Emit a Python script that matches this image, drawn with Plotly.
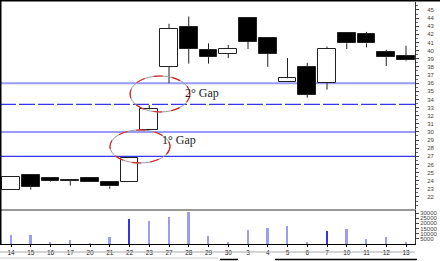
import plotly.graph_objects as go

# ---- data ----
dates = ["14", "15", "16", "17", "20", "21", "22", "23", "27", "28", "29",
         "30", "3", "4", "5", "6", "7", "10", "11", "12", "13"]
opens = [22.9, 24.7, 24.3, 24.1, 24.3, 23.8, 23.8, 30.2, 38.0, 42.9, 40.1,
         39.6, 44.0, 41.6, 36.1, 38.0, 36.0, 42.2, 42.0, 39.8, 39.3]
highs = [24.5, 24.7, 24.35, 24.2, 24.3, 23.8, 26.8, 33.3, 43.3, 44.2, 40.9,
         40.7, 44.0, 41.6, 39.1, 38.5, 40.5, 42.2, 42.3, 40.1, 40.6]
lows = [22.9, 22.9, 23.9, 23.4, 23.8, 23.0, 23.8, 30.2, 36.0, 38.4, 38.4,
        39.1, 40.2, 38.0, 36.1, 34.2, 35.2, 40.2, 40.4, 38.1, 38.7]
closes = [24.5, 23.2, 24.0, 24.0, 23.8, 23.3, 26.8, 32.8, 42.7, 40.2, 39.2,
          40.2, 41.1, 39.6, 36.6, 34.6, 40.2, 40.9, 40.9, 39.2, 38.8]
volumes = [8700, 8700, 1000, 4000, 300, 6800, 24000, 22000, 26000, 31000, 7700,
           1000, 13500, 15500, 17400, 1000, 12600, 14500, 4800, 6800, 2000]
dark_volume_days = ["22", "7"]
gap_lines = [36.0, 33.4, 30.0, 27.0]
price_ticks = list(range(22, 46))
volume_ticks = [5000, 10000, 15000, 20000, 25000, 30000]

xs = list(range(len(dates)))

fig = go.Figure()

# wicks (drawn above / below the bodies)
wx, wy = [], []
for i in xs:
    top = max(opens[i], closes[i])
    bot = min(opens[i], closes[i])
    if highs[i] > top:
        wx += [i, i, None]
        wy += [top, highs[i], None]
    if lows[i] < bot:
        wx += [i, i, None]
        wy += [bot, lows[i], None]
fig.add_trace(go.Scatter(x=wx, y=wy, mode="lines",
                         line=dict(color="#222", width=1),
                         xaxis="x", yaxis="y", hoverinfo="skip", showlegend=False))

# bodies
bases = [min(o, c) for o, c in zip(opens, closes)]
heights = [max(abs(c - o), 0.12) for o, c in zip(opens, closes)]
fills = ["white" if c >= o else "black" for o, c in zip(opens, closes)]
fig.add_trace(go.Bar(x=xs, y=heights, base=bases, width=0.9,
                     marker=dict(color=fills, line=dict(color="#222", width=1)),
                     xaxis="x", yaxis="y", showlegend=False))

# volume
vcols = ["#3434e0" if d in dark_volume_days else "#9c9cf2" for d in dates]
fig.add_trace(go.Bar(x=xs, y=volumes, width=0.1,
                     marker=dict(color=vcols, line=dict(width=0)),
                     xaxis="x2", yaxis="y2", showlegend=False))

XD = 415 / 440
H = 261.0


def py(px):
    return 1 - px / H


shapes = []
# gap lines
styles = [("#9a9af8", 2, "solid"), ("#3535ee", 1.3, "16px,3px"),
          ("#9a9af8", 2, "solid"), ("#3535ee", 1.3, "solid")]
for v, (c, w, d) in zip(gap_lines, styles):
    shapes.append(dict(type="line", xref="paper", yref="y", x0=0, x1=XD,
                       y0=v, y1=v, line=dict(color=c, width=w, dash=d), layer="below"))

# ellipses around the gaps
for (x0, x1, y0, y1) in [(6.03, 9.06, 32.45, 36.88), (5.01, 8.05, 26.18, 30.24)]:
    shapes.append(dict(type="circle", xref="x", yref="y", x0=x0, x1=x1, y0=y0, y1=y1,
                       line=dict(color="#999", width=1)))
    shapes.append(dict(type="circle", xref="x", yref="y", x0=x0, x1=x1, y0=y0, y1=y1,
                       line=dict(color="#e02020", width=1.2, dash="dash")))

# frame
shapes.append(dict(type="line", xref="paper", yref="paper", x0=0, x1=1, y0=py(0.5), y1=py(0.5),
                   line=dict(color="black", width=2)))
shapes.append(dict(type="line", xref="paper", yref="paper", x0=0.5 / 440, x1=0.5 / 440,
                   y0=py(244), y1=1, line=dict(color="black", width=2)))
shapes.append(dict(type="line", xref="paper", yref="paper", x0=0, x1=XD, y0=py(252), y1=py(252),
                   line=dict(color="#aaa", width=1)))
shapes.append(dict(type="line", xref="paper", yref="paper", x0=220 / 440, x1=238 / 440,
                   y0=py(259.5), y1=py(259.5), line=dict(color="black", width=1.5)))
shapes.append(dict(type="line", xref="paper", yref="paper", x0=275 / 440, x1=417 / 440,
                   y0=py(259.5), y1=py(259.5), line=dict(color="black", width=1.5)))
shapes.append(dict(type="line", xref="paper", yref="paper", x0=0, x1=218 / 440,
                   y0=py(258), y1=py(258), line=dict(color="#ccc", width=1)))

annotations = [
    dict(text="2° Gap", xref="paper", yref="paper", x=183 / 440, y=py(93), xanchor="left",
         yanchor="middle", showarrow=False, font=dict(family="Liberation Serif", size=12, color="#222")),
    dict(text="1° Gap", xref="paper", yref="paper", x=160 / 440, y=py(140), xanchor="left",
         yanchor="middle", showarrow=False, font=dict(family="Liberation Serif", size=12, color="#222")),
]

xr = [-0.557, -0.557 + 415 / 19.75]
fig.update_layout(
    width=440, height=261, autosize=False,
    margin=dict(l=0, r=0, t=0, b=0),
    paper_bgcolor="white", plot_bgcolor="white",
    bargap=0, barmode="overlay",
    shapes=shapes, annotations=annotations,
    xaxis=dict(domain=[0, XD], range=xr, anchor="y", showticklabels=False,
               showgrid=False, zeroline=False, showline=True, linecolor="#999", linewidth=2,
               ticks="", tickvals=[i + 0.5 for i in xs]),
    yaxis=dict(domain=[py(209), py(2)], range=[20.52, 45.98], side="right", anchor="x",
               tickvals=price_ticks, ticktext=[str(t) for t in price_ticks],
               tickfont=dict(family="Arial", size=6, color="#444"),
               ticklabelstandoff=7,
               showgrid=False, zeroline=False, showline=True, linecolor="#333", linewidth=1,
               ticks="outside", ticklen=3, tickcolor="#444",
               minor=dict(dtick=0.5, ticks="outside", ticklen=2, tickcolor="#666")),
    xaxis2=dict(domain=[0, XD], range=xr, anchor="y2",
                tickvals=xs, ticktext=dates, tickfont=dict(family="Arial", size=6.5, color="#222"),
                showgrid=False, zeroline=False, showline=True, linecolor="black", linewidth=1,
                ticks="outside", ticklen=2, tickcolor="black"),
    yaxis2=dict(domain=[py(244), py(210)], range=[0, 32900], side="right", anchor="x2",
                tickvals=volume_ticks, ticktext=[str(t) for t in volume_ticks],
                tickfont=dict(family="Arial", size=6, color="#444"),
                showgrid=False, zeroline=False, showline=True, linecolor="#333", linewidth=1,
                ticks="outside", ticklen=3, tickcolor="#444"),
)

fig.write_html("out.html")
